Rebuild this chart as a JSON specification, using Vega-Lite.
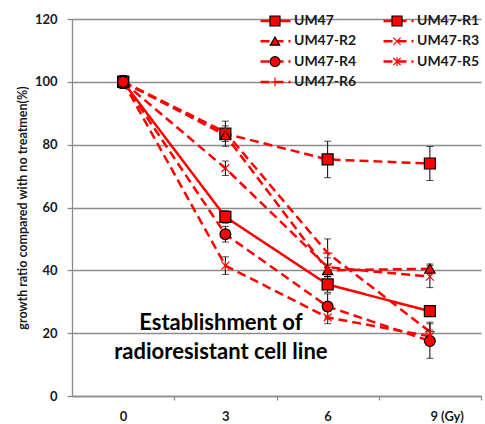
{
  "$schema": "https://vega.github.io/schema/vega-lite/v6.json",
  "width": 409,
  "height": 377,
  "autosize": "none",
  "padding": {"left": 72, "top": 19, "right": 4, "bottom": 28},
  "background": "white",
  "config": {
    "font": "Lato",
    "view": {"stroke": null},
    "axis": {
      "labelFont": "Lato", "labelFontSize": 13, "labelFontWeight": "bold", "labelColor": "#1a1a1a",
      "titleFont": "Lato", "titleFontSize": 12.5, "titleFontWeight": "bold", "titleColor": "#1a1a1a",
      "domainColor": "#8c8c8c", "domainWidth": 1.3, "tickColor": "#8c8c8c", "tickWidth": 1.3,
      "gridColor": "#8c8c8c", "gridWidth": 1.3
    }
  },
  "data": {"values": [
    {"series": "UM47", "dose": 0, "ratio": 100, "err": 2},
    {"series": "UM47", "dose": 3, "ratio": 57, "err": 2},
    {"series": "UM47", "dose": 6, "ratio": 35.5, "err": 2.5},
    {"series": "UM47", "dose": 9, "ratio": 27, "err": 1.5},
    {"series": "UM47-R1", "dose": 0, "ratio": 100, "err": 2},
    {"series": "UM47-R1", "dose": 3, "ratio": 83.5, "err": 4},
    {"series": "UM47-R1", "dose": 6, "ratio": 75.3, "err": 5.8},
    {"series": "UM47-R1", "dose": 9, "ratio": 74, "err": 5.4},
    {"series": "UM47-R2", "dose": 0, "ratio": 100, "err": 1.5},
    {"series": "UM47-R2", "dose": 3, "ratio": 83, "err": 2},
    {"series": "UM47-R2", "dose": 6, "ratio": 40, "err": 2},
    {"series": "UM47-R2", "dose": 9, "ratio": 40.5, "err": 1.5},
    {"series": "UM47-R3", "dose": 0, "ratio": 100, "err": 1.5},
    {"series": "UM47-R3", "dose": 3, "ratio": 72.5, "err": 2.3},
    {"series": "UM47-R3", "dose": 6, "ratio": 41, "err": 3},
    {"series": "UM47-R3", "dose": 9, "ratio": 38, "err": 3.5},
    {"series": "UM47-R4", "dose": 0, "ratio": 100, "err": 2},
    {"series": "UM47-R4", "dose": 3, "ratio": 51.5, "err": 2.5},
    {"series": "UM47-R4", "dose": 6, "ratio": 28.5, "err": 4},
    {"series": "UM47-R4", "dose": 9, "ratio": 17.5, "err": 5.5},
    {"series": "UM47-R5", "dose": 0, "ratio": 100, "err": 2},
    {"series": "UM47-R5", "dose": 3, "ratio": 41.5, "err": 2.8},
    {"series": "UM47-R5", "dose": 6, "ratio": 25, "err": 2},
    {"series": "UM47-R5", "dose": 9, "ratio": 19, "err": 2},
    {"series": "UM47-R6", "dose": 0, "ratio": 100, "err": 2},
    {"series": "UM47-R6", "dose": 3, "ratio": 84, "err": 2},
    {"series": "UM47-R6", "dose": 6, "ratio": 45.5, "err": 4.5},
    {"series": "UM47-R6", "dose": 9, "ratio": 20.5, "err": 3}
  ]},
  "layer": [
    {
      "mark": {"type": "line", "color": "red", "strokeWidth": 2.5},
      "encoding": {
        "x": {"field": "dose", "type": "quantitative",
          "scale": {"domain": [-1.5, 10.5], "nice": false, "zero": false},
          "axis": {"values": [0, 1.5, 3, 4.5, 6, 7.5, 9, 10.5], "grid": false, "title": null,
            "tickSize": 4, "labelPadding": 10,
            "tickOpacity": {"condition": {"test": "datum.value % 3 == 0", "value": 0}, "value": 1},
            "labelExpr": "datum.value % 3 == 0 ? (datum.value == 9 ? ' 9  (Gy)' : datum.label) : ''",
            "labelAlign": {"condition": {"test": "datum.value == 9", "value": "left"}, "value": "center"}}},
        "y": {"field": "ratio", "type": "quantitative",
          "scale": {"domain": [0, 120], "nice": false},
          "title": "growth ratio compared with no treatmen(%)",
          "axis": {"values": [0, 20, 40, 60, 80, 100, 120], "grid": true, "tickSize": 5, "labelPadding": 10,
            "titlePadding": 5}},
        "detail": {"field": "series"},
        "strokeDash": {"field": "series", "type": "nominal",
          "scale": {"range": [[1, 0], [9, 5], [9, 5], [9, 5], [9, 5], [9, 5], [9, 5]]},
          "legend": {"orient": "none", "legendX": 187, "legendY": -8, "columns": 2, "direction": "horizontal", "title": null,
            "padding": 0, "symbolType": "M-1.5,0L1.5,0", "symbolSize": 400, "symbolOffset": 5, "symbolStrokeColor": "red",
            "symbolStrokeWidth": 2.5, "labelFont": "Lato", "labelFontSize": 14, "labelFontWeight": "bold",
            "labelColor": "#1a1a1a", "labelOffset": 7, "columnPadding": 25, "rowPadding": 0.3, "clipHeight": 20, "zindex": 1}}
      }
    },
    {
      "mark": {"type": "errorbar", "ticks": {"size": 7, "color": "black", "strokeWidth": 1}, "rule": {"color": "black", "strokeWidth": 1}},
      "encoding": {
        "x": {"field": "dose", "type": "quantitative"},
        "y": {"field": "ratio", "type": "quantitative", "title": "growth ratio compared with no treatmen(%)"},
        "yError": {"field": "err"}
      }
    },
    {
      "mark": {"type": "point", "filled": true, "fill": "red", "strokeWidth": 1.2, "size": 484, "opacity": 1},
      "encoding": {
        "x": {"field": "dose", "type": "quantitative"},
        "y": {"field": "ratio", "type": "quantitative", "title": "growth ratio compared with no treatmen(%)"},
        "shape": {"field": "series", "type": "nominal",
          "scale": {"domain": ["UM47", "UM47-R1", "UM47-R2", "UM47-R3", "UM47-R4", "UM47-R5", "UM47-R6"],
            "range": [
              "M-0.5,-0.5L0.5,-0.5L0.5,0.5L-0.5,0.5Z",
              "M-0.5,-0.5L0.5,-0.5L0.5,0.5L-0.5,0.5Z",
              "M0,-0.43L0.47,0.39L-0.47,0.39Z",
              "M-0.36,-0.36L0.36,0.36M-0.36,0.36L0.36,-0.36",
              "M-0.49,0A0.49,0.49 0 1,0 0.49,0A0.49,0.49 0 1,0 -0.49,0Z",
              "M-0.36,-0.36L0.36,0.36M-0.36,0.36L0.36,-0.36M0,-0.43L0,0.43",
              "M-0.43,0L0.43,0M0,-0.43L0,0.43"
            ]},
          "legend": {"orient": "none", "legendX": 187, "legendY": -8, "columns": 2, "direction": "horizontal", "title": null,
            "padding": 0, "symbolSize": 400, "symbolOffset": 5, "symbolFillColor": "red", "symbolStrokeWidth": 1.2,
            "labelFont": "Lato", "labelFontSize": 14, "labelFontWeight": "bold",
            "labelColor": "transparent", "labelOffset": 7, "columnPadding": 25, "rowPadding": 0.3, "clipHeight": 20, "zindex": 2}},
        "stroke": {"field": "series", "type": "nominal",
          "scale": {"domain": ["UM47", "UM47-R1", "UM47-R2", "UM47-R3", "UM47-R4", "UM47-R5", "UM47-R6"],
            "range": ["black", "black", "black", "red", "black", "red", "red"]}}
      }
    },
    {
      "data": {"values": [{}]},
      "mark": {"type": "text", "text": ["Establishment of", "radioresistant cell line"], "font": "Lato",
        "fontSize": 22, "fontWeight": "bold", "color": "black", "align": "center", "baseline": "alphabetic", "lineHeight": 29},
      "encoding": {
        "x": {"datum": 2.87, "type": "quantitative"},
        "y": {"datum": 21, "type": "quantitative"}
      }
    }
  ],
  "resolve": {"scale": {"strokeDash": "independent"}}
}
